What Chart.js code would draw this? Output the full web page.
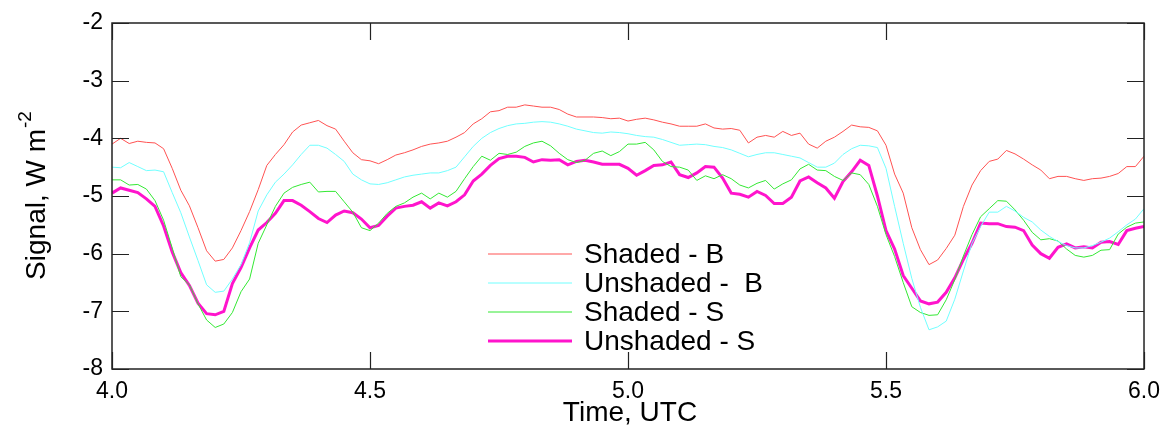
<!DOCTYPE html>
<html>
<head>
<meta charset="utf-8">
<script src="https://cdn.jsdelivr.net/npm/chart.js@4.4.1/dist/chart.umd.min.js"></script>
<style>
  html, body { margin: 0; padding: 0; background: #fff; }
  #wrap { width: 1169px; height: 437px; }
</style>
</head>
<body>
<div id="wrap"><canvas id="chart" width="1169" height="437"></canvas></div>
<script>
// One sample per minute, 4.0 to 6.0 UTC
const startHour = 4.0;
const sampleCount = 121;

const shadedB = [
  -4.10, -4.00, -4.09, -4.05, -4.07, -4.08, -4.18, -4.52, -4.90, -5.17,
  -5.55, -5.95, -6.13, -6.10, -5.90, -5.60, -5.27, -4.89, -4.47, -4.28,
  -4.11, -3.89, -3.77, -3.73, -3.69, -3.78, -3.84, -4.05, -4.25, -4.37,
  -4.39, -4.44, -4.37, -4.29, -4.25, -4.20, -4.14, -4.10, -4.08, -4.05,
  -3.98, -3.90, -3.75, -3.66, -3.54, -3.52, -3.46, -3.46, -3.42, -3.44,
  -3.46, -3.46, -3.50, -3.58, -3.63, -3.63, -3.63, -3.64, -3.66, -3.65,
  -3.70, -3.67, -3.65, -3.68, -3.72, -3.75, -3.79, -3.79, -3.79, -3.75,
  -3.82, -3.84, -3.83, -3.86, -4.08, -3.98, -3.95, -3.98, -3.88, -3.95,
  -3.91, -4.10, -4.17, -4.05, -3.98, -3.88, -3.77, -3.80, -3.81, -3.87,
  -4.12, -4.62, -4.95, -5.55, -5.93, -6.19, -6.11, -5.91, -5.68, -5.18,
  -4.81, -4.56, -4.40, -4.36, -4.21, -4.27, -4.36, -4.46, -4.55, -4.70,
  -4.66, -4.66, -4.70, -4.73, -4.70, -4.69, -4.66, -4.61, -4.49, -4.49,
  -4.31
];

const unshadedB = [
  -4.50, -4.51, -4.42, -4.49, -4.56, -4.55, -4.58, -4.94, -5.29, -5.71,
  -6.12, -6.54, -6.67, -6.65, -6.44, -6.19, -5.81, -5.26, -4.98, -4.76,
  -4.62, -4.46, -4.28, -4.12, -4.12, -4.17, -4.28, -4.40, -4.62, -4.72,
  -4.79, -4.80, -4.77, -4.72, -4.67, -4.64, -4.62, -4.60, -4.60, -4.56,
  -4.50, -4.32, -4.14, -4.00, -3.90, -3.83, -3.78, -3.75, -3.74, -3.72,
  -3.71, -3.72, -3.75, -3.79, -3.84, -3.87, -3.90, -3.91, -3.89, -3.90,
  -3.92, -3.95, -3.97, -3.98, -4.02, -4.07, -4.12, -4.11, -4.10, -4.11,
  -4.14, -4.16, -4.20, -4.26, -4.32, -4.28, -4.25, -4.25, -4.28, -4.31,
  -4.34, -4.42, -4.50, -4.50, -4.43, -4.28, -4.18, -4.12, -4.13, -4.16,
  -4.52, -5.18, -5.82, -6.43, -6.93, -7.32, -7.27, -7.17, -6.79, -6.30,
  -5.82, -5.53, -5.28, -5.28, -5.18, -5.26, -5.37, -5.45, -5.59, -5.70,
  -5.79, -5.86, -5.90, -5.90, -5.86, -5.80, -5.73, -5.62, -5.50, -5.40,
  -5.22
];

const shadedS = [
  -4.72, -4.72, -4.81, -4.80, -4.88, -5.08, -5.42, -5.90, -6.40, -6.54,
  -6.87, -7.15, -7.28, -7.22, -7.02, -6.66, -6.44, -5.82, -5.50, -5.18,
  -4.95, -4.85, -4.80, -4.76, -4.93, -4.92, -4.92, -5.10, -5.28, -5.55,
  -5.60, -5.47, -5.30, -5.18, -5.12, -5.02, -4.95, -5.05, -4.95, -5.02,
  -4.92, -4.70, -4.49, -4.31, -4.38, -4.26, -4.28, -4.24, -4.14, -4.08,
  -4.05, -4.13, -4.26, -4.37, -4.42, -4.38, -4.26, -4.22, -4.30, -4.23,
  -4.10, -4.10, -4.07, -4.20, -4.40, -4.49, -4.50, -4.55, -4.73, -4.65,
  -4.70, -4.63, -4.70, -4.81, -4.86, -4.78, -4.73, -4.88, -4.79, -4.72,
  -4.53, -4.45, -4.55, -4.56, -4.66, -4.73, -4.60, -4.63, -4.80, -5.18,
  -5.67, -6.05, -6.50, -6.92, -7.02, -7.07, -7.06, -6.80, -6.45, -6.04,
  -5.67, -5.36, -5.22, -5.08, -5.09, -5.24, -5.42, -5.63, -5.76, -5.74,
  -5.78, -5.92, -6.03, -6.06, -6.03, -5.94, -5.93, -5.66, -5.54, -5.47,
  -5.45
];

const unshadedS = [
  -4.95, -4.86, -4.90, -4.94, -5.05, -5.18, -5.52, -5.97, -6.33, -6.55,
  -6.86, -7.04, -7.06, -7.00, -6.52, -6.24, -5.90, -5.59, -5.46, -5.30,
  -5.08, -5.08, -5.16, -5.27, -5.39, -5.46, -5.33, -5.26, -5.29, -5.40,
  -5.55, -5.51, -5.35, -5.21, -5.18, -5.16, -5.10, -5.21, -5.12, -5.17,
  -5.10, -4.98, -4.74, -4.62, -4.47, -4.35, -4.31, -4.31, -4.33, -4.41,
  -4.37, -4.38, -4.37, -4.46, -4.40, -4.38, -4.41, -4.45, -4.45, -4.45,
  -4.52, -4.64, -4.56, -4.47, -4.46, -4.41, -4.63, -4.68, -4.60, -4.49,
  -4.50, -4.69, -4.95, -4.97, -5.02, -4.92, -4.99, -5.13, -5.13, -5.02,
  -4.74, -4.67, -4.77, -4.86, -5.04, -4.75, -4.58, -4.38, -4.47, -5.00,
  -5.60, -5.92, -6.38, -6.60, -6.82, -6.87, -6.84, -6.67, -6.42, -6.10,
  -5.82, -5.47, -5.48, -5.48, -5.53, -5.54, -5.60, -5.85, -6.00, -6.08,
  -5.89, -5.83, -5.90, -5.88, -5.90, -5.80, -5.79, -5.84, -5.60, -5.56,
  -5.53
];

const seriesNames = ['Shaded - B', 'Unshaded -  B', 'Shaded - S', 'Unshaded - S'];
const seriesColors = ['#ff5252', '#70ffff', '#33e833', '#ff14cc'];
const seriesWidths = [1, 1, 1, 3];

const xTicks = [4.0, 4.5, 5.0, 5.5, 6.0];
const yTicks = [-2, -3, -4, -5, -6, -7, -8];

const times = [];
for (let i = 0; i < sampleCount; i++) times.push(startHour + i / 60);

function toPoints(values) {
  return values.map((v, i) => ({ x: times[i], y: v }));
}

const FONT = 'Liberation Sans, Arial, Helvetica, sans-serif';

// Frame, inward ticks, axis titles and the legend box
const decorations = {
  id: 'decorations',
  afterDraw(chart) {
    const { ctx, chartArea: a, scales } = chart;
    const tick = 17;
    ctx.save();
    ctx.strokeStyle = '#222';
    ctx.lineWidth = 1.5;
    ctx.strokeRect(a.left, a.top, a.right - a.left, a.bottom - a.top);

    ctx.beginPath();
    yTicks.forEach(v => {
      const y = Math.round(scales.y.getPixelForValue(v)) + 0.5;
      ctx.moveTo(a.left, y); ctx.lineTo(a.left + tick, y);
      ctx.moveTo(a.right, y); ctx.lineTo(a.right - tick, y);
    });
    xTicks.forEach(v => {
      const x = Math.round(scales.x.getPixelForValue(v)) + 0.5;
      ctx.moveTo(x, a.bottom); ctx.lineTo(x, a.bottom - tick);
      ctx.moveTo(x, a.top); ctx.lineTo(x, a.top + tick);
    });
    ctx.lineWidth = 1.2;
    ctx.stroke();

    // x title
    ctx.fillStyle = '#000';
    ctx.font = '28px ' + FONT;
    ctx.textAlign = 'center';
    ctx.textBaseline = 'alphabetic';
    ctx.fillText('Time, UTC', (a.left + a.right) / 2 + 2, 421);

    // y title with superscript
    ctx.save();
    ctx.translate(45, (a.top + a.bottom) / 2);
    ctx.rotate(-Math.PI / 2);
    const main = 'Signal, W m';
    ctx.font = '28px ' + FONT;
    const wMain = ctx.measureText(main).width;
    ctx.font = '19px ' + FONT;
    const wSup = ctx.measureText('-2').width;
    const x0 = -(wMain + wSup) / 2;
    ctx.textAlign = 'left';
    ctx.font = '28px ' + FONT;
    ctx.fillText(main, x0, 0);
    ctx.font = '19px ' + FONT;
    ctx.fillText('-2', x0 + wMain + 1, -14);
    ctx.restore();

    // legend
    const lx0 = 488, lx1 = 572, tx = 584;
    const rows = [254, 283, 312, 341];
    ctx.font = '28px ' + FONT;
    ctx.textAlign = 'left';
    ctx.textBaseline = 'middle';
    chart.data.datasets.forEach((ds, i) => {
      const y = rows[i];
      ctx.strokeStyle = ds.borderColor;
      ctx.lineWidth = ds.borderWidth;
      ctx.beginPath();
      ctx.moveTo(lx0, y); ctx.lineTo(lx1, y);
      ctx.stroke();
      ctx.fillStyle = '#000';
      ctx.fillText(ds.label, tx, y + 1);
    });
    ctx.restore();
  }
};

new Chart(document.getElementById('chart'), {
  type: 'line',
  data: {
    datasets: seriesNames.map((name, i) => ({
      label: name,
      data: toPoints([shadedB, unshadedB, shadedS, unshadedS][i]),
      borderColor: seriesColors[i],
      borderWidth: seriesWidths[i],
      pointRadius: 0,
      tension: 0,
      fill: false
    }))
  },
  options: {
    responsive: false,
    animation: false,
    layout: { autoPadding: false, padding: { left: 0, top: 23, right: 19, bottom: 0 } },
    plugins: { legend: { display: false }, tooltip: { enabled: false } },
    scales: {
      x: {
        type: 'linear',
        min: 4, max: 6,
        afterFit: s => { s.height = 68; },
        afterBuildTicks: s => { s.ticks = xTicks.map(v => ({ value: v })); },
        grid: { display: false, drawTicks: false },
        border: { display: false },
        ticks: {
          padding: 9,
          color: '#000',
          font: { family: FONT, size: 23 },
          maxRotation: 0,
          callback: v => v.toFixed(1)
        }
      },
      y: {
        type: 'linear',
        min: -8, max: -2,
        afterFit: s => { s.width = 112; },
        afterBuildTicks: s => { s.ticks = yTicks.map(v => ({ value: v })); },
        grid: { display: false, drawTicks: false },
        border: { display: false },
        ticks: {
          padding: 9,
          color: '#000',
          font: { family: FONT, size: 23 },
          callback: v => String(v)
        }
      }
    }
  },
  plugins: [decorations]
});
</script>
</body>
</html>
